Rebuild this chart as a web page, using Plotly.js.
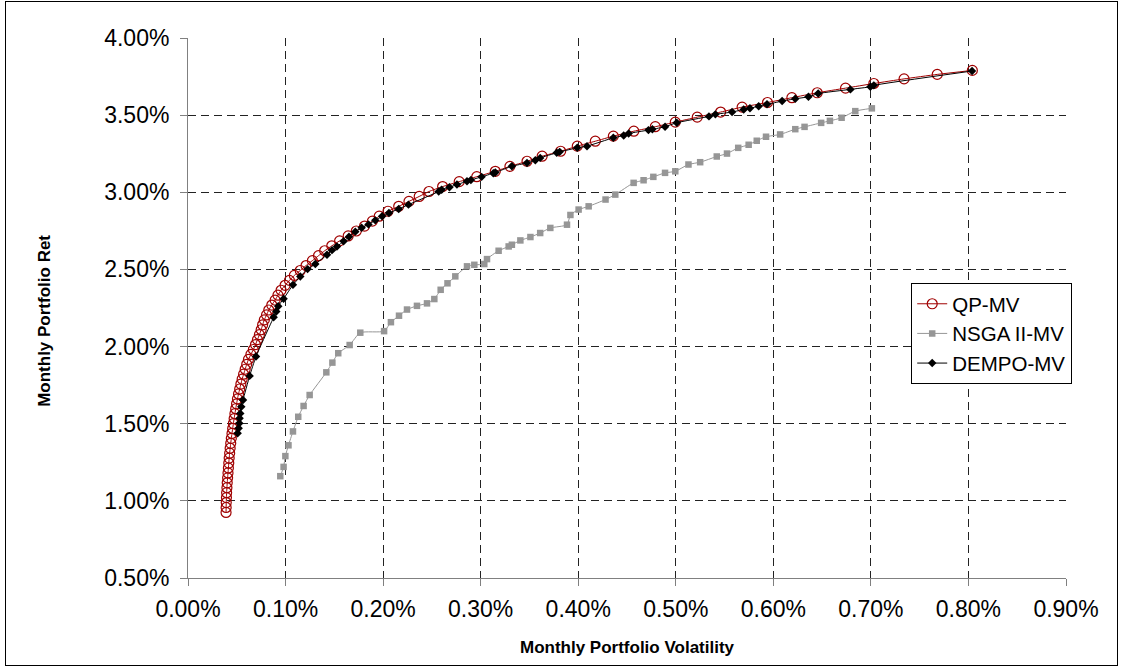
<!DOCTYPE html>
<html>
<head>
<meta charset="utf-8">
<script src="https://cdn.plot.ly/plotly-3.0.1.min.js"></script>
<style>
  html, body { margin: 0; padding: 0; background: #fff; }
  #wrap { position: relative; width: 1122px; height: 668px; }
  #chart { width: 1122px; height: 668px; }
  #frame { position: absolute; left: 5px; top: 1px; width: 1111px; height: 663px; border: 1px solid #000; pointer-events: none; }
</style>
</head>
<body>
<div id="wrap"><div id="chart"></div><div id="frame"></div></div>
<script>
// Monthly portfolio volatility (%) and return (%)
const qpVol = [0.0390,0.0391,0.0392,0.0394,0.0396,0.0399,0.0402,0.0406,0.0410,0.0414,0.0418,0.0422,0.0427,0.0432,0.0438,0.0444,0.0451,0.0458,0.0465,0.0473,0.0481,0.0489,0.0498,0.0507,0.0518,0.0530,0.0542,0.0555,0.0570,0.0586,0.0602,0.0620,0.0645,0.0670,0.0692,0.0712,0.0732,0.0750,0.0765,0.0782,0.0805,0.0828,0.0859,0.0893,0.0922,0.0954,0.0995,0.1040,0.1090,0.1150,0.1210,0.1275,0.1338,0.1401,0.1474,0.1554,0.1642,0.1725,0.1810,0.1890,0.1960,0.2050,0.2160,0.2265,0.2370,0.2470,0.2610,0.2780,0.2960,0.315,0.330,0.3475,0.363,0.382,0.399,0.4175,0.436,0.457,0.479,0.4995,0.522,0.546,0.568,0.594,0.619,0.645,0.674,0.703,0.734,0.768,0.804];
const qpRet = [0.925,0.957,0.989,1.021,1.053,1.085,1.117,1.149,1.181,1.213,1.245,1.277,1.309,1.341,1.373,1.405,1.437,1.469,1.501,1.533,1.565,1.597,1.629,1.661,1.693,1.725,1.757,1.789,1.821,1.853,1.885,1.917,1.949,1.981,2.013,2.045,2.077,2.109,2.141,2.173,2.205,2.237,2.269,2.301,2.333,2.365,2.397,2.429,2.461,2.493,2.525,2.557,2.589,2.621,2.653,2.685,2.717,2.749,2.781,2.813,2.845,2.877,2.909,2.941,2.973,3.005,3.037,3.069,3.101,3.136,3.168,3.201,3.234,3.266,3.299,3.331,3.364,3.396,3.425,3.455,3.487,3.520,3.552,3.582,3.613,3.645,3.675,3.705,3.735,3.764,3.790];

const nsgaVol = [0.0946,0.0980,0.0998,0.1030,0.1076,0.1130,0.1185,0.1247,0.1418,0.1480,0.1540,0.1657,0.1766,0.2010,0.2080,0.2163,0.2245,0.2347,0.2450,0.2525,0.2590,0.2660,0.2740,0.2860,0.2935,0.3037,0.3065,0.3184,0.3287,0.3320,0.3407,0.3510,0.3610,0.3714,0.3885,0.3920,0.4004,0.4107,0.4280,0.4380,0.4568,0.4670,0.4770,0.4890,0.4995,0.5130,0.5250,0.5420,0.5525,0.5640,0.5747,0.5830,0.5925,0.6070,0.6225,0.6320,0.6490,0.6580,0.6700,0.6840,0.7010];
const nsgaRet = [1.160,1.220,1.290,1.360,1.450,1.545,1.615,1.686,1.833,1.896,1.957,2.010,2.090,2.100,2.158,2.200,2.240,2.264,2.280,2.308,2.368,2.410,2.455,2.520,2.530,2.535,2.567,2.621,2.649,2.660,2.688,2.710,2.736,2.769,2.790,2.853,2.888,2.909,2.953,2.985,3.061,3.078,3.100,3.126,3.136,3.180,3.195,3.232,3.251,3.288,3.308,3.334,3.360,3.375,3.409,3.424,3.450,3.463,3.483,3.526,3.544];

const dempoVol = [0.0509,0.0519,0.0526,0.0529,0.0536,0.0546,0.0564,0.0632,0.0697,0.0878,0.0905,0.0925,0.0980,0.1076,0.1151,0.1226,0.1305,0.1425,0.1476,0.1527,0.1595,0.1650,0.1715,0.1780,0.1850,0.1920,0.1990,0.2060,0.2160,0.2260,0.2570,0.2600,0.2680,0.2757,0.2860,0.2900,0.3010,0.3130,0.3150,0.3320,0.3475,0.3560,0.3610,0.3780,0.3810,0.3990,0.4090,0.4360,0.4466,0.4517,0.4720,0.4760,0.4890,0.5010,0.5340,0.5406,0.5577,0.5696,0.5760,0.5850,0.5935,0.6090,0.6225,0.6360,0.6460,0.6790,0.6995,0.7030,0.8037];
const dempoRet = [1.438,1.470,1.503,1.535,1.567,1.610,1.654,1.810,1.935,2.190,2.227,2.262,2.310,2.400,2.454,2.502,2.535,2.595,2.625,2.649,2.682,2.712,2.745,2.770,2.792,2.818,2.844,2.866,2.892,2.920,3.005,3.017,3.033,3.050,3.071,3.080,3.100,3.124,3.128,3.169,3.190,3.208,3.223,3.256,3.262,3.288,3.299,3.353,3.368,3.381,3.403,3.408,3.425,3.451,3.492,3.505,3.520,3.537,3.544,3.558,3.570,3.591,3.606,3.619,3.640,3.667,3.684,3.693,3.786];

const seriesNames = ['QP-MV', 'NSGA II-MV', 'DEMPO-MV'];
const xTitle = 'Monthly Portfolio Volatility';
const yTitle = 'Monthly Portfolio Ret';

const FONT = 'Arial, "Liberation Sans", Helvetica, sans-serif';

const traces = [
  {
    x: qpVol, y: qpRet, name: seriesNames[0], type: 'scatter', mode: 'lines+markers',
    line: {color: '#A00000', width: 1, shape: 'spline', smoothing: 0.5},
    marker: {symbol: 'circle-open', size: 10, color: '#A00000', line: {width: 1.2, color: '#A00000'}}
  },
  {
    x: nsgaVol, y: nsgaRet, name: seriesNames[1], type: 'scatter', mode: 'lines+markers',
    line: {color: '#969696', width: 1, shape: 'spline', smoothing: 0.6},
    marker: {symbol: 'square', size: 6.5, color: '#969696'}
  },
  {
    x: dempoVol, y: dempoRet, name: seriesNames[2], type: 'scatter', mode: 'lines+markers',
    line: {color: '#000000', width: 1, shape: 'spline', smoothing: 0.5},
    marker: {symbol: 'diamond', size: 6.5, color: '#000000'}
  }
];

const axisCommon = {
  showline: true, linecolor: '#808080', linewidth: 1,
  ticks: 'outside', ticklen: 7, tickcolor: '#808080', tickwidth: 1,
  showgrid: true, gridcolor: '#222222', gridwidth: 1, griddash: '8px,5px',
  zeroline: false,
  tickfont: {family: FONT, size: 23, color: '#000'},
  ticksuffix: '%', tickformat: '.2f'
};

const layout = {
  width: 1122, height: 668,
  margin: {l: 188, r: 56.3, t: 38.3, b: 90.3},
  paper_bgcolor: '#ffffff', plot_bgcolor: '#ffffff',
  font: {family: FONT, color: '#000'},
  showlegend: true,
  legend: {
    x: 0.8237, y: 0.5464, xanchor: 'left', yanchor: 'top',
    bgcolor: '#ffffff', bordercolor: '#000000', borderwidth: 1,
    font: {family: FONT, size: 20.5, color: '#000'},
    tracegroupgap: 0, itemwidth: 30
  },
  xaxis: Object.assign({}, axisCommon, {
    range: [0, 0.9], dtick: 0.1, tick0: 0,
    ticklabelstandoff: 3,
    title: {text: '<b>' + xTitle + '</b>', font: {family: FONT, size: 17, color: '#000'}, standoff: 20}
  }),
  yaxis: Object.assign({}, axisCommon, {
    range: [0.5, 4.0], dtick: 0.5, tick0: 0.5,
    ticklabelstandoff: 6
  }),
  annotations: [{
    text: '<b>' + yTitle + '</b>', xref: 'paper', yref: 'paper',
    x: -0.163, y: 0.476, xanchor: 'center', yanchor: 'middle',
    textangle: -90, showarrow: false,
    font: {family: FONT, size: 17, color: '#000'}
  }]
};

Plotly.newPlot('chart', traces, layout, {staticPlot: true, displayModeBar: false});
</script>
</body>
</html>
